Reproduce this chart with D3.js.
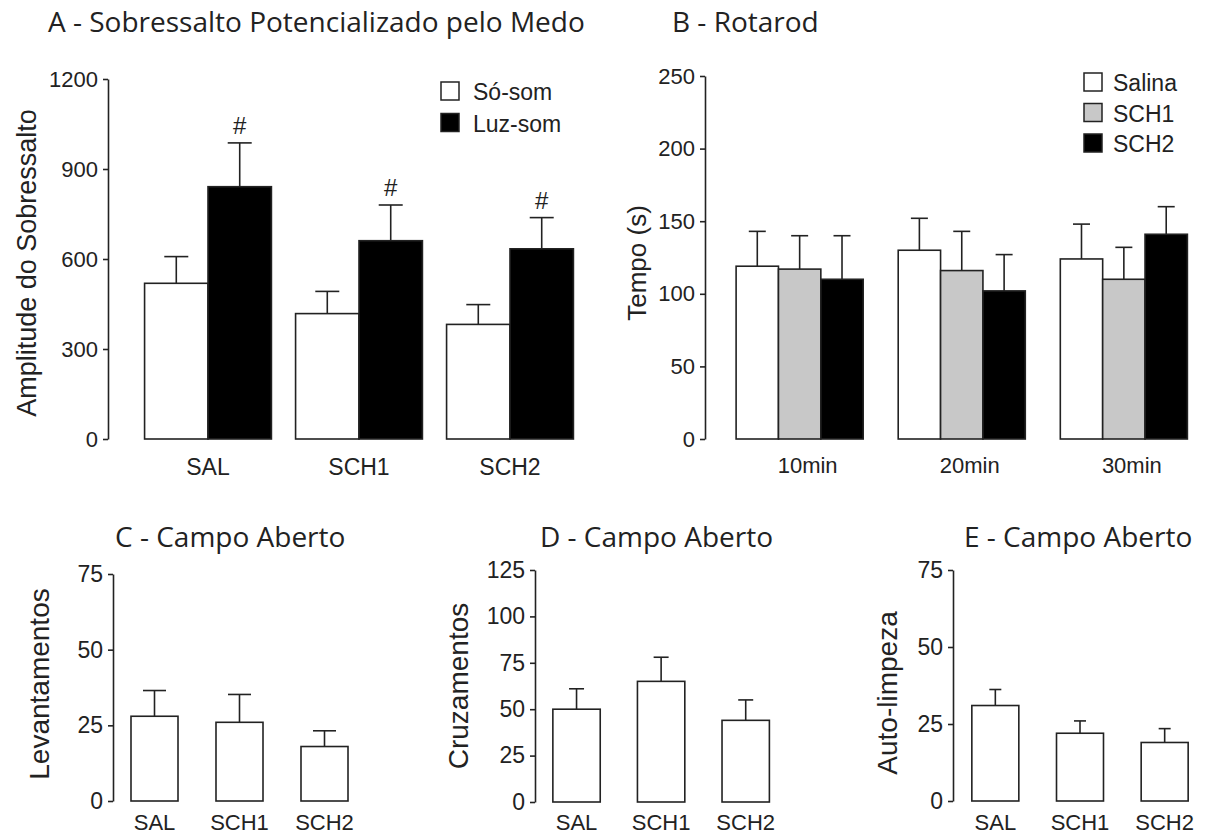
<!DOCTYPE html>
<html>
<head>
<meta charset="utf-8">
<script src="https://cdn.jsdelivr.net/npm/d3@7"></script>
<style>
  body { margin: 0; background: #fff; }
  text { fill: #222; }
</style>
</head>
<body>
<svg id="fig" width="1210" height="834"></svg>
<script>
// ---- data ----
// A - fear potentiated startle
var groupsA = ["SAL", "SCH1", "SCH2"]
var seriesA = ["Só-som", "Luz-som"]
var meanA = [[519, 841], [418, 661], [382, 634]]
var semA = [[89, 146], [74, 119], [66, 104]]
var ticksA = [0, 300, 600, 900, 1200]

// B - rotarod
var groupsB = ["10min", "20min", "30min"]
var seriesB = ["Salina", "SCH1", "SCH2"]
var meanB = [[119, 117, 110], [130, 116, 102], [124, 110, 141]]
var semB = [[24, 23, 30], [22, 27, 25], [24, 22, 19]]
var ticksB = [0, 50, 100, 150, 200, 250]

// C, D, E - open field
var groupsCDE = ["SAL", "SCH1", "SCH2"]
var meanC = [28, 26, 18]
var semC = [8.5, 9.2, 5.2]
var meanD = [50, 65, 44]
var semD = [11, 13, 11]
var meanE = [31, 22, 19]
var semE = [5.2, 4, 4.5]
var ticksC = [0, 25, 50, 75]
var ticksD = [0, 25, 50, 75, 100, 125]
var ticksE = [0, 25, 50, 75]

var svg = d3.select("#fig")
var fills = {"Só-som": "#fff", "Luz-som": "#000", "Salina": "#fff", "SCH1": "#c8c8c8", "SCH2": "#000"}
var sans = "Liberation Sans, Arial"

function panel(cfg) {
  var g = svg.append("g")
  var y = d3.scaleLinear().domain(cfg.ydomain).range([cfg.y0, cfg.y1])
  var x = d3.scaleBand().domain(cfg.groups).range(cfg.xrange)
    .paddingInner(cfg.pad).paddingOuter(cfg.pad / 2)
  var xs = d3.scaleBand().domain(cfg.series).range([0, x.bandwidth()])

  // y axis
  var ax = g.append("g")
    .attr("transform", "translate(" + cfg.axisX + ",0)")
    .call(d3.axisLeft(y).tickValues(cfg.ticks).tickFormat(d3.format("d"))
      .tickSize(5).tickSizeOuter(0).tickPadding(5))
  ax.selectAll("path, line").attr("stroke", "#222").attr("stroke-width", 1.6)
  ax.selectAll("text").style("font-family", sans).style("font-size", cfg.tickSize).attr("fill", "#222")

  var rows = []
  cfg.groups.forEach(function (gr, i) {
    cfg.series.forEach(function (s, j) {
      rows.push({ g: gr, s: s, m: cfg.mean[i][j], e: cfg.sem[i][j] })
    })
  })
  var cx = function (d) { return x(d.g) + xs(d.s) + xs.bandwidth() / 2 }

  // error bars (upper half only, drawn under the bar)
  var err = g.selectAll(".err").data(rows).enter().append("g")
  err.append("line")
    .attr("x1", cx).attr("x2", cx)
    .attr("y1", function (d) { return y(d.m) })
    .attr("y2", function (d) { return y(d.m + d.e) })
    .attr("stroke", "#222").attr("stroke-width", 1.6)
  err.append("line")
    .attr("x1", function (d) { return cx(d) - cfg.cap / 2 })
    .attr("x2", function (d) { return cx(d) + cfg.cap / 2 })
    .attr("y1", function (d) { return y(d.m + d.e) })
    .attr("y2", function (d) { return y(d.m + d.e) })
    .attr("stroke", "#222").attr("stroke-width", 1.6)

  g.selectAll(".bar").data(rows).enter().append("rect")
    .attr("x", function (d) { return x(d.g) + xs(d.s) })
    .attr("y", function (d) { return y(d.m) })
    .attr("width", xs.bandwidth())
    .attr("height", function (d) { return y(0) - y(d.m) })
    .attr("fill", function (d) { return cfg.fills ? fills[d.s] : "#fff" })
    .attr("stroke", "#222").attr("stroke-width", 1.6)

  // x labels
  g.selectAll(".xl").data(cfg.groups).enter().append("text")
    .attr("x", function (d) { return x(d) + x.bandwidth() / 2 + (cfg.xlShift || 0) })
    .attr("y", cfg.xlY)
    .attr("text-anchor", "middle")
    .style("font-family", sans).style("font-size", cfg.xlSize)
    .text(function (d) { return d })

  // y label
  g.append("text")
    .attr("transform", "translate(" + cfg.yl[0] + "," + cfg.yl[1] + ") rotate(-90)")
    .attr("text-anchor", "middle")
    .attr("dominant-baseline", "central")
    .style("font-family", sans).style("font-size", cfg.ylSize)
    .text(cfg.ylabel)

  // title
  g.append("text")
    .attr("x", cfg.titleX).attr("y", cfg.titleY)
    .style("font-family", "Open Sans").style("font-size", "28px")
    .text(cfg.title)

  return { g: g, x: x, xs: xs, y: y, rows: rows, cx: cx }
}

function wrap(a) { return a.map(function (v) { return [v] }) }

var pA = panel({
  title: "A - Sobressalto Potencializado pelo Medo", titleX: 48, titleY: 32,
  groups: groupsA, series: seriesA, mean: meanA, sem: semA, fills: true,
  ydomain: [0, 1200], y0: 439, y1: 79, ticks: ticksA, axisX: 108, tickSize: "22px",
  xrange: [132.5, 585.5], pad: 0.16, cap: 24,
  xlY: 475, xlSize: "23px", yl: [27, 263], ylSize: "27px", ylabel: "Amplitude do Sobressalto"
})
// "#" marks over Luz-som bars
pA.g.selectAll(".hash").data(pA.rows.filter(function (d) { return d.s === "Luz-som" })).enter().append("text")
  .attr("x", pA.cx)
  .attr("y", function (d) { return pA.y(d.m + d.e) - 9 })
  .attr("text-anchor", "middle")
  .style("font-family", sans).style("font-size", "24px")
  .text("#")

panel({
  title: "B - Rotarod", titleX: 672, titleY: 32,
  groups: groupsB, series: seriesB, mean: meanB, sem: semB, fills: true,
  ydomain: [0, 250], y0: 439, y1: 76, ticks: ticksB, axisX: 705, tickSize: "22px",
  xrange: [718.6, 1204.9], pad: 0.216, cap: 17, xlShift: 8,
  xlY: 473, xlSize: "22px", yl: [637, 263], ylSize: "26px", ylabel: "Tempo (s)"
})

panel({
  title: "C - Campo Aberto", titleX: 115, titleY: 547,
  groups: groupsCDE, series: ["v"], mean: wrap(meanC), sem: wrap(semC),
  ydomain: [0, 75], y0: 801, y1: 574, ticks: ticksC, axisX: 113, tickSize: "23px",
  xrange: [112, 367], pad: 0.447, cap: 23,
  xlY: 830, xlSize: "22px", yl: [39, 684], ylSize: "28px", ylabel: "Levantamentos"
})
panel({
  title: "D - Campo Aberto", titleX: 540, titleY: 547,
  groups: groupsCDE, series: ["v"], mean: wrap(meanD), sem: wrap(semD),
  ydomain: [0, 125], y0: 802, y1: 570, ticks: ticksD, axisX: 535, tickSize: "23px",
  xrange: [534.25, 788], pad: 0.44, cap: 15,
  xlY: 830, xlSize: "22px", yl: [458, 686], ylSize: "28px", ylabel: "Cruzamentos"
})
panel({
  title: "E - Campo Aberto", titleX: 964, titleY: 547,
  groups: groupsCDE, series: ["v"], mean: wrap(meanE), sem: wrap(semE),
  ydomain: [0, 75], y0: 801, y1: 570, ticks: ticksE, axisX: 953, tickSize: "23px",
  xrange: [953, 1207], pad: 0.445, cap: 12,
  xlY: 830, xlSize: "22px", yl: [887, 693], ylSize: "28px", ylabel: "Auto-limpeza"
})

// legends
function legend(items, x0, y0, dy, tx) {
  var lg = svg.append("g").attr("transform", "translate(" + x0 + "," + y0 + ")")
  var it = lg.selectAll("g").data(items).enter().append("g")
    .attr("transform", function (d, i) { return "translate(0," + i * dy + ")" })
  it.append("rect").attr("x", 0).attr("y", -9).attr("width", 18).attr("height", 18)
    .attr("fill", function (d) { return fills[d] }).attr("stroke", "#222").attr("stroke-width", 1.5)
  it.append("text").attr("x", tx).attr("y", 1).attr("dominant-baseline", "central")
    .style("font-family", sans).style("font-size", "23px")
    .text(function (d) { return d })
}
legend(seriesA, 441, 91, 31.5, 32)
legend(seriesB, 1084, 82, 30.5, 29)
</script>
</body>
</html>
